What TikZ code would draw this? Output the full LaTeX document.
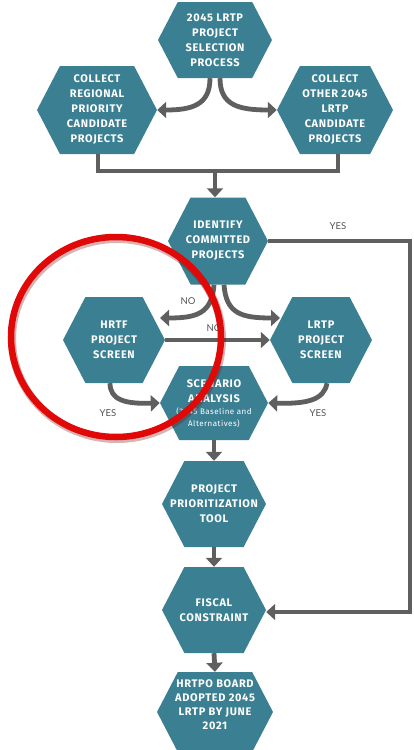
\documentclass[tikz,border=0pt]{standalone}
\usepackage{fontspec}
\setmainfont{Lato}
\newfontfamily\hexfont{Fira Sans}[LetterSpace=6]
\usetikzlibrary{shapes.symbols,arrows.meta}
\definecolor{hexteal}{RGB}{58,128,146}
\definecolor{arrgray}{RGB}{95,95,95}
\definecolor{lblgray}{RGB}{85,85,85}
\definecolor{ringred}{RGB}{225,8,8}
\tikzset{
  hexbox/.style={shape=signal, signal to=east and west, signal pointer angle=125,
    fill=hexteal, draw=none, inner sep=0pt},
  hextext/.style={text=white, align=center, inner sep=0pt,
    font=\hexfont\fontsize{11}{15}\selectfont\bfseries},
  flow/.style={draw=arrgray, line width=4.8pt},
  flowar/.style={flow, -{Triangle[length=9pt,width=16pt]}},
  lbl/.style={text=lblgray, font=\fontsize{9.5}{10}\selectfont},
}
\begin{document}
\begin{tikzpicture}[x=1pt,y=-1pt]
\useasboundingbox (0,0) rectangle (413,750);
\fill[white] (0,0) rectangle (413,750);

\node[hexbox, minimum width=114pt, minimum height=76pt, label={[hextext]center:{2045 LRTP\\PROJECT\\SELECTION\\PROCESS}}] (top) at (215,40) {};
\node[hexbox, minimum width=120pt, minimum height=88pt, label={[hextext]center:{COLLECT\\REGIONAL\\PRIORITY\\CANDIDATE\\PROJECTS}}] (colL) at (97,110) {};
\node[hexbox, minimum width=116pt, minimum height=88pt, label={[hextext]center:{COLLECT\\OTHER 2045\\LRTP\\CANDIDATE\\PROJECTS}}] (colR) at (335,110) {};
\node[hexbox, minimum width=100pt, minimum height=87pt, label={[hextext]center:{IDENTIFY\\COMMITTED\\PROJECTS}}] (ident) at (218,241) {};
\node[hexbox, minimum width=102pt, minimum height=86pt, label={[hextext]center:{HRTF\\PROJECT\\SCREEN}}] (hrtf) at (114,340) {};
\node[hexbox, minimum width=102pt, minimum height=86pt, label={[hextext]center:{LRTP\\PROJECT\\SCREEN}}] (lrtp) at (321,340) {};
\node[hexbox, minimum width=108pt, minimum height=74pt, label={[hextext, yshift=-1pt]center:{SCENARIO\\ANALYSIS\\[-3pt]{\fontsize{8}{12}\selectfont\mdseries (2045 Baseline and}\\[-3pt]{\fontsize{8}{12}\selectfont\mdseries Alternatives)}}}] (scen) at (214,403) {};
\node[hexbox, minimum width=104pt, minimum height=86pt, label={[hextext]center:{PROJECT\\PRIORITIZATION\\TOOL}}] (prior) at (214,504) {};
\node[hexbox, minimum width=104pt, minimum height=86pt, label={[hextext]center:{FISCAL\\CONSTRAINT}}] (fisc) at (214,610) {};
\node[hexbox, minimum width=116pt, minimum height=80pt, label={[hextext, yshift=7pt, font=\hexfont\fontsize{11}{14}\selectfont\bfseries]center:{HRTPO BOARD\\ADOPTED 2045\\LRTP BY JUNE\\2021}}] (board) at (215,712) {};

% top to collect
\draw[flowar] ([xshift=-5pt]top.south) .. controls (210,105) and (192,110) .. (colL.east);
\draw[flowar] ([xshift=5pt]top.south) .. controls (220,105) and (238,110) .. (colR.west);

% collect merge
\coordinate (mC) at (215,171);
\draw[flow, line cap=butt] (98,154) |- (mC) -| (338,154);
\draw[flowar] (mC) -- (ident.north -| mC);

% identify YES to fiscal
\coordinate (yR1) at (410,241);
\coordinate (yR2) at (410,612);
\draw[flowar] (ident.east) -- (yR1) -- (yR2) -- (fisc.east |- yR2);
\node[lbl] (yes1) at (338,226) {YES};

% identify NO to screens
\draw[flowar] ([xshift=-4pt]ident.south) .. controls (212,314) and (196,318) .. (160,318);
\draw[flowar] ([xshift=6pt]ident.south) .. controls (226,314) and (242,318) .. (280,318);
\node[lbl] (no1) at (188,301) {NO};

% hrtf to lrtp
\draw[flowar] (hrtf.east) -- (lrtp.west);
\node[lbl] (no2) at (214,328) {NO};

% screens YES to scenario
\draw[flowar] ([xshift=-4pt]hrtf.south) .. controls (110,400) and (125,404) .. (scen.west);
\draw[flowar] ([xshift=6pt]lrtp.south) .. controls (324,400) and (307,404) .. (scen.east);
\node[lbl] (yes2) at (108,413) {YES};
\node[lbl] (yes3) at (318,413) {YES};

% vertical chain
\draw[flowar] (scen.south) -- (prior.north);
\draw[flowar] (prior.south) -- (fisc.north);
\draw[flowar] (fisc.south) -- (board.north);

% red ring
\draw[ringred!55!black, line width=8pt, opacity=0.3] (117,339) ellipse (105pt and 100pt);
\draw[ringred, line width=6.5pt] (116,337) ellipse (105pt and 100pt);
\end{tikzpicture}
\end{document}
